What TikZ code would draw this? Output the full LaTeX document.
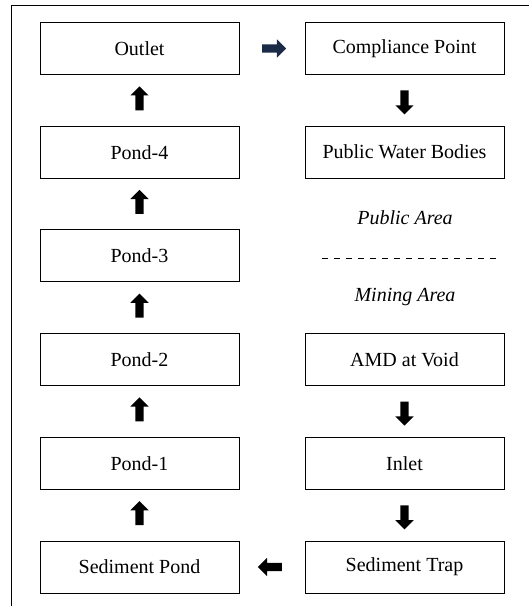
\documentclass[tikz,border=0pt]{standalone}
\usepackage{fontspec}
\setmainfont{Liberation Serif}
\usetikzlibrary{positioning}
\usetikzlibrary{shapes.arrows}
\definecolor{arrownavy}{HTML}{1B2A47}
\tikzset{flowbox/.style={rectangle,draw=black,fill=white,line width=1pt,outer sep=0pt,
inner sep=2pt,minimum height=52pt, minimum width=199pt,font=\fontsize{20}{24}\selectfont}}
\tikzset{flowarrow/.style={single arrow,draw=none,fill=black,inner sep=4pt,outer sep=0pt,
minimum width=18pt, minimum height=24pt, single arrow head extend=5pt}}
\tikzset{arealabel/.style={draw=none,inner sep=0pt,font=\fontsize{20}{24}\selectfont\itshape}}

\begin{document}
\begin{tikzpicture}
    \useasboundingbox (0,0) rectangle (529pt,-606pt);
    \draw[line width=0.8pt] (11pt,-606pt) -- (11pt,-5pt) -- (529pt,-5pt);

    % left column, bottom to top flow
    \node[flowbox] (outlet) at (139.5pt,-48.5pt) {Outlet};
    \node[flowbox] (pondD) [below=51.7pt of outlet] {Pond-4};
    \node[flowbox] (pondC) [below=51.7pt of pondD] {Pond-3};
    \node[flowbox] (pondB) [below=51.7pt of pondC] {Pond-2};
    \node[flowbox] (pondA) [below=51.7pt of pondB] {Pond-1};
    \node[flowbox] (sedpond) [below=51.7pt of pondA] {Sediment Pond};

    % right column
    \node[flowbox] (compliance) [right=66pt of outlet] {Compliance Point};
    \node[flowbox] (publicwater) [below=51.7pt of compliance] {Public Water Bodies};
    \node[flowbox] (amdvoid) [below=155.4pt of publicwater] {AMD at Void};
    \node[flowbox] (inlet) [below=51.7pt of amdvoid] {Inlet};
    \node[flowbox] (sedtrap) [below=51.7pt of inlet] {Sediment Trap};

    % area split
    \node[arealabel] (publicarea) at (405pt,-218pt) {Public Area};
    \node[arealabel] (miningarea) at (405pt,-297pt) {Mining Area};
    \coordinate (dashL) at (322pt,-258pt);
    \coordinate (dashR) at (497pt,-258pt);
    \draw[line width=0.8pt,dash pattern=on 6pt off 6pt] (dashL) -- (dashR);

    % block arrows
    \path (amdvoid) -- node[flowarrow,shape border rotate=270] (arrA) {} (inlet);
    \path (inlet) -- node[flowarrow,shape border rotate=270] (arrB) {} (sedtrap);
    \path (sedtrap) -- node[flowarrow,shape border rotate=180] (arrC) {} (sedpond);
    \path (sedpond) -- node[flowarrow,shape border rotate=90] (arrD) {} (pondA);
    \path (pondA) -- node[flowarrow,shape border rotate=90] (arrE) {} (pondB);
    \path (pondB) -- node[flowarrow,shape border rotate=90] (arrF) {} (pondC);
    \path (pondC) -- node[flowarrow,shape border rotate=90] (arrG) {} (pondD);
    \path (pondD) -- node[flowarrow,shape border rotate=90] (arrH) {} (outlet);
    \path (outlet) -- node[flowarrow,fill=arrownavy] (arrI) {} (compliance);
    \path (compliance) -- node[flowarrow,shape border rotate=270] (arrJ) {} (publicwater);

\end{tikzpicture}
\end{document}
